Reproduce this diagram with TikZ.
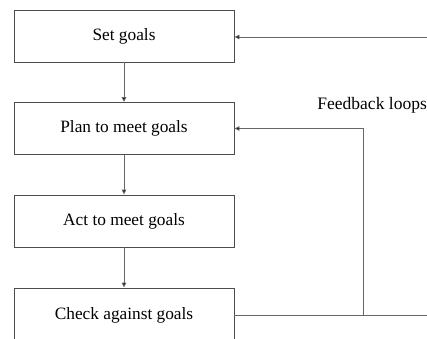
\documentclass[tikz,border=0pt]{standalone}
\usepackage{fontspec}
\setmainfont{Liberation Serif}
\usetikzlibrary{arrows.meta}
\begin{document}
\begin{tikzpicture}[x=1pt,y=-1pt,
  box/.style={draw=black!70,line width=0.9pt,minimum width=220pt,minimum height=52pt,inner sep=0pt,font=\fontsize{17.3}{20}\selectfont},
  conn/.style={draw=black!60,line width=0.9pt},
  arr/.style={conn,-{Triangle[length=5pt,width=4.5pt,fill=black]}}]
\clip (0,0) rectangle (427,338);
\fill[white] (0,0) rectangle (427,338);
\node[box] (b1) at (124,36) {Set goals};
\node[box] (b2) at (124,128.5) {Plan to meet goals};
\node[box] (b3) at (124,221) {Act to meet goals};
\node[box,minimum height=54pt] (b4) at (124,315) {Check against goals};
\node[font=\fontsize{17.5}{20}\selectfont,inner sep=0pt,anchor=east] (fb) at (427,105) {Feedback loops};
\coordinate (in1) at (427,37);
\coordinate (out4) at (427,315);
\coordinate (j) at (363,315);
\draw[arr] (b1) -- (b2);
\draw[arr] (b2) -- (b3);
\draw[arr] (b3) -- (b4);
\draw[arr] (in1) -- (b1.east |- in1);
\draw[conn] (b4.east) -- (out4);
\draw[arr] (j) |- (b2.east);
\end{tikzpicture}
\end{document}
